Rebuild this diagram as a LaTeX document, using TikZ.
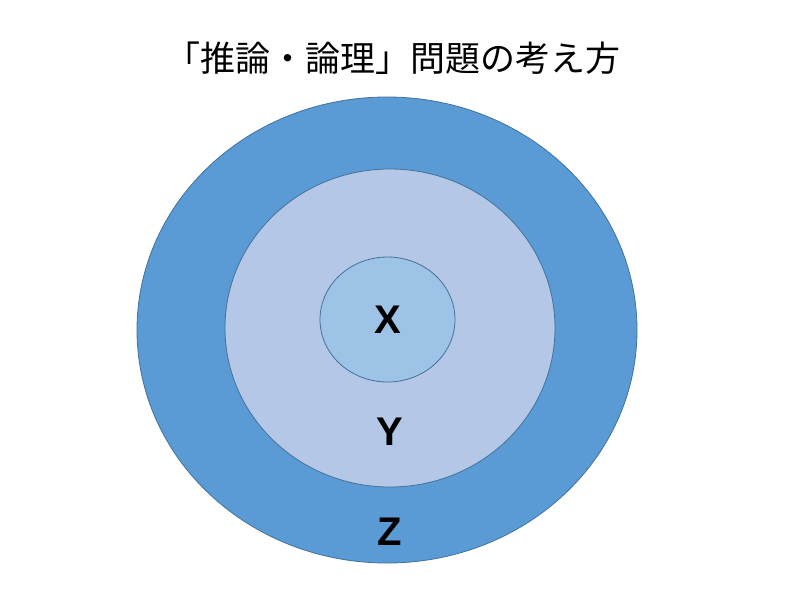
\documentclass[tikz,border=0pt]{standalone}
\usepackage{fontspec}
\setmainfont{Liberation Sans}
\newfontfamily\cjkfont{Noto Sans CJK JP}
\definecolor{outerblue}{HTML}{5B9BD5}
\definecolor{midblue}{HTML}{B4C7E7}
\definecolor{innerblue}{HTML}{9DC3E6}
\definecolor{edgeblue}{HTML}{41719C}
\begin{document}
\begin{tikzpicture}[x=1pt,y=-1pt,
  ring/.style={draw=edgeblue,line width=0.8pt,ellipse},
  lbl/.style={font=\fontsize{40}{40}\selectfont\bfseries,text=black,inner sep=0pt}]
\useasboundingbox (0,0) rectangle (800,600);
\fill[white] (0,0) rectangle (800,600);
\draw[draw=edgeblue,line width=0.8pt,fill=outerblue] (387,330) ellipse [x radius=250,y radius=233];
\draw[draw=edgeblue,line width=0.8pt,fill=midblue] (390,328) ellipse [x radius=165,y radius=159];
\draw[draw=edgeblue,line width=0.8pt,fill=innerblue] (387.5,319.5) ellipse [x radius=67.5,y radius=62.5];
\node[font=\cjkfont\fontsize{35}{35}\selectfont,inner sep=0pt] (title) at (393,58) {「推論・論理」問題の考え方};
\node[lbl] (x) at (388,320) {X};
\node[lbl] (y) at (390,432) {Y};
\node[lbl] (z) at (390,532) {Z};
\end{tikzpicture}
\end{document}
